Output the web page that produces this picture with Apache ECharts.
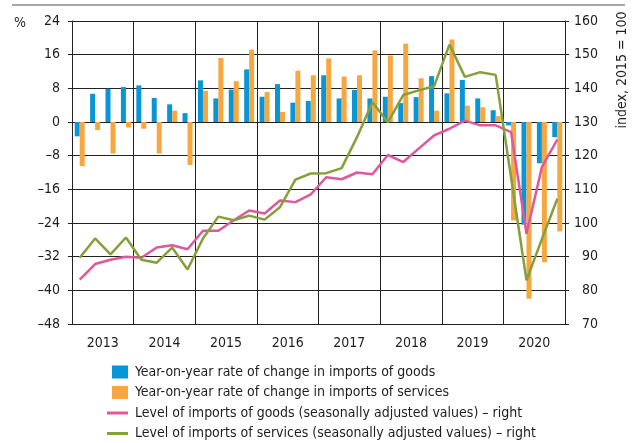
<!DOCTYPE html>
<html>
<head>
<meta charset="utf-8">
<script src="https://cdn.jsdelivr.net/npm/echarts@6/dist/echarts.min.js"></script>
<style>
html,body{margin:0;padding:0;background:#fff;}
#chart{width:634px;height:443px;}
</style>
</head>
<body>
<div id="chart"></div>
<script>
// ---- data ----
var years = ['2013','2014','2015','2016','2017','2018','2019','2020'];
var quarters = [];
years.forEach(function(y){ ['Q1','Q2','Q3','Q4'].forEach(function(q){ quarters.push(y + ' ' + q); }); });

var goodsYoY = [
  -3.4, 6.7, 7.9, 8.3,
   8.7, 5.7, 4.2, 2.1,
   9.9, 5.6, 7.7, 12.5,
   6.0, 9.0, 4.6, 5.0,
  11.1, 5.6, 7.6, 5.6,
   6.0, 4.5, 5.9, 10.9,
   6.8, 10.0, 5.6, 2.8,
  -0.8, -24.4, -9.8, -3.6
];
var servicesYoY = [
  -10.5, -1.9, -7.5, -1.3,
   -1.6, -7.5, 2.7, -10.2,
    7.4, 15.2, 9.7, 17.2,
    7.1, 2.4, 12.2, 11.1,
   15.1, 10.8, 11.1, 17.0,
   15.8, 18.6, 10.4, 2.7,
   19.6, 3.9, 3.5, 1.4,
  -23.4, -42.0, -33.3, -26.0
];
var goodsLevel = [
   83.2, 87.8, 89.1, 90.0,
   89.7, 92.7, 93.4, 92.2,
   97.7, 97.7, 100.8, 103.7,
  102.8, 106.7, 106.2, 108.5,
  113.6, 113.0, 115.0, 114.5,
  120.2, 118.1, 122.1, 126.0,
  128.0, 130.4, 129.0, 129.0,
  127.0, 96.8, 116.6, 124.8
];
var servicesLevel = [
   89.7, 95.4, 90.7, 95.7,
   89.1, 88.2, 92.7, 86.2,
   95.4, 101.9, 100.8, 102.2,
  101.0, 104.7, 112.9, 114.7,
  114.8, 116.3, 125.5, 135.9,
  129.9, 138.0, 139.4, 140.6,
  153.0, 143.4, 144.8, 144.0,
  113.5, 83.0, 95.2, 107.2
];
var leftTicks = { min: -48, max: 24, interval: 8 };
var rightTicks = { min: 70, max: 160, interval: 10 };
var seriesNames = [
  'Year-on-year rate of change in imports of goods',
  'Year-on-year rate of change in imports of services',
  'Level of imports of goods (seasonally adjusted values) \u2013 right',
  'Level of imports of services (seasonally adjusted values) \u2013 right'
];

// ---- styles ----
var FONT = "'Liberation Sans Narrow','Arial Narrow','DejaVu Sans Condensed',sans-serif";
var TXT = '#1e1e1e';
var GRIDC = '#222';
var BLUE = '#0896d6', ORANGE = '#f6a740', PINK = '#e0579b', GREEN = '#84a03a';

var chart = echarts.init(document.getElementById('chart'), null, {renderer:'canvas'});
chart.setOption({
  animation: false,
  textStyle: { fontFamily: FONT },
  grid: { left: 72, top: 21, width: 493, height: 303, containLabel: false },
  xAxis: [
    { type: 'category', data: quarters, show: false, position: 'bottom', boundaryGap: true },
    { type: 'category', data: years, position: 'bottom', boundaryGap: true,
      axisLine: { show: true, lineStyle: { color: GRIDC, width: 1 } },
      axisTick: { show: false },
      axisLabel: { color: TXT, fontSize: 14, fontFamily: FONT, margin: 12 },
      splitLine: { show: true, interval: 0, lineStyle: { color: GRIDC, width: 1 } } }
  ],
  yAxis: [
    { type: 'value', min: leftTicks.min, max: leftTicks.max, interval: leftTicks.interval,
      axisLine: { show: true, lineStyle: { color: GRIDC, width: 1 } },
      axisTick: { show: true, length: 4, lineStyle: { color: GRIDC } },
      axisLabel: { color: TXT, fontSize: 14, fontFamily: FONT, margin: 12,
        formatter: function(v){ return String(v).replace('-', '\u2013'); } },
      splitLine: { show: true, lineStyle: { color: GRIDC, width: 1 } } },
    { type: 'value', min: rightTicks.min, max: rightTicks.max, interval: rightTicks.interval, position: 'right',
      axisLine: { show: true, lineStyle: { color: GRIDC, width: 1 } },
      axisTick: { show: true, length: 4, lineStyle: { color: GRIDC } },
      axisLabel: { color: TXT, fontSize: 14, fontFamily: FONT, margin: 33, align: 'right' },
      splitLine: { show: false } }
  ],
  legend: [
    { data: [seriesNames[0], seriesNames[1]], orient: 'vertical', left: 112, top: 364, padding: 0,
      itemWidth: 16, itemHeight: 13, itemGap: 4.5, icon: 'rect', selectedMode: false,
      textStyle: { color: TXT, fontSize: 14, fontFamily: FONT, lineHeight: 16, padding: [0,0,0,2] } },
    { data: [seriesNames[2], seriesNames[3]], orient: 'vertical', left: 107, top: 405, padding: 0,
      itemWidth: 21, itemHeight: 3, itemGap: 4.5, icon: 'rect', selectedMode: false,
      textStyle: { color: TXT, fontSize: 14, fontFamily: FONT, lineHeight: 16, padding: [0,0,0,2] } }
  ],
  graphic: [
    { type: 'line', shape: { x1: 12, y1: 5, x2: 625, y2: 5 }, style: { stroke: '#8a8a8a', lineWidth: 1.5 } },
    { type: 'text', x: 20, y: 23, style: { text: '%', fill: TXT, font: '14px ' + FONT, textAlign: 'center', textVerticalAlign: 'middle' } },
    { type: 'text', x: 622, y: 70, rotation: Math.PI / 2,
      style: { text: 'index, 2015 = 100', fill: TXT, font: '14px ' + FONT, textAlign: 'center', textVerticalAlign: 'middle' } }
  ],
  series: [
    { name: seriesNames[0], type: 'bar', xAxisIndex: 0, yAxisIndex: 0, data: goodsYoY,
      barWidth: 5, barGap: '0%', itemStyle: { color: BLUE } },
    { name: seriesNames[1], type: 'bar', xAxisIndex: 0, yAxisIndex: 0, data: servicesYoY,
      barWidth: 5, barGap: '0%', itemStyle: { color: ORANGE } },
    { name: seriesNames[2], type: 'line', xAxisIndex: 0, yAxisIndex: 1, data: goodsLevel,
      symbol: 'none', lineStyle: { color: PINK, width: 2.5 }, itemStyle: { color: PINK }, z: 3 },
    { name: seriesNames[3], type: 'line', xAxisIndex: 0, yAxisIndex: 1, data: servicesLevel,
      symbol: 'none', lineStyle: { color: GREEN, width: 2.5 }, itemStyle: { color: GREEN }, z: 4 }
  ]
});
</script>
</body>
</html>
